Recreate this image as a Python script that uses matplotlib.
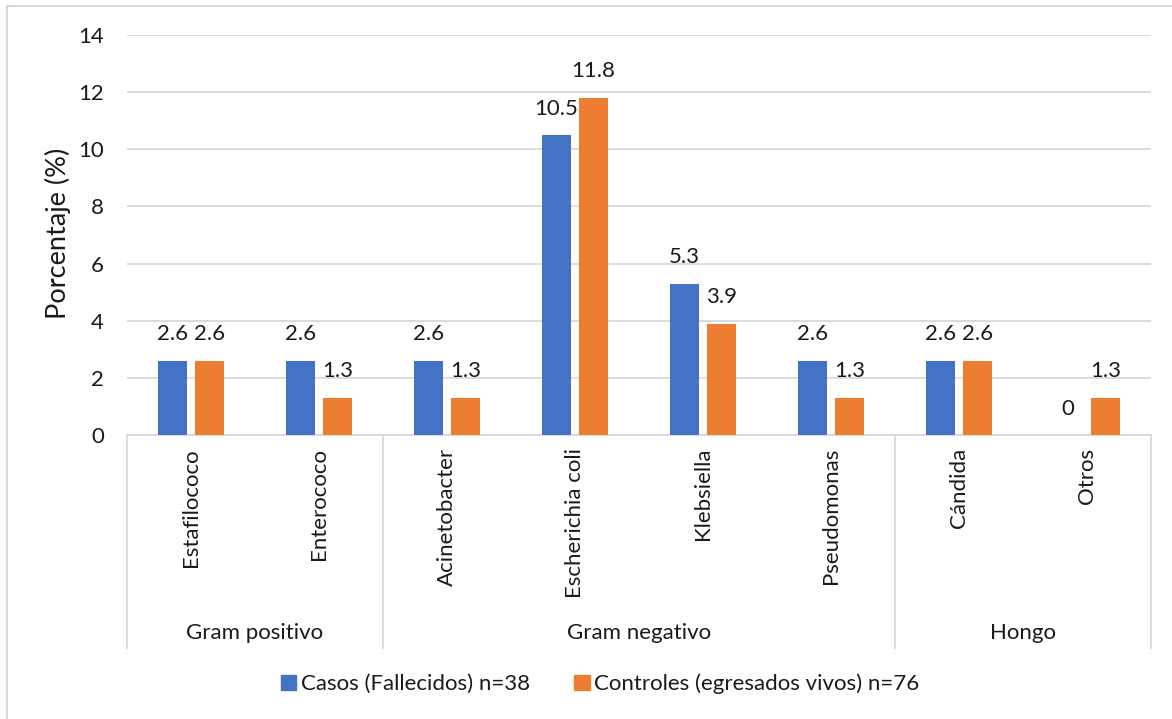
import matplotlib
matplotlib.use("Agg")
import matplotlib.pyplot as plt
from matplotlib.lines import Line2D
from matplotlib.patches import Patch
import numpy as np

plt.rcParams['font.family'] = ['Lato', 'DejaVu Sans']

organisms = ["Estafilococo", "Enterococo", "Acinetobacter", "Escherichia coli",
             "Klebsiella", "Pseudomonas", "Cándida", "Otros"]
groups = ["Gram positivo", "Gram negativo", "Hongo"]
group_sizes = [2, 4, 2]
casos = [2.6, 2.6, 2.6, 10.5, 5.3, 2.6, 2.6, 0]
controles = [2.6, 1.3, 1.3, 11.8, 3.9, 1.3, 2.6, 1.3]
casos_label = "Casos (Fallecidos) n=38"
controles_label = "Controles (egresados vivos) n=76"
yticks = [0, 2, 4, 6, 8, 10, 12, 14]

BLUE = "#4472C4"
ORANGE = "#ED7D31"
GRID = "#D9D9D9"
TXT = "#1a1a1a"
FS = 16

W, H = 1172, 719
fig = plt.figure(figsize=(W / 100, H / 100), dpi=100)

# plot area in pixels
x0, x1 = 127, 1151
ytop, ybot = 35, 435
ax = fig.add_axes([x0 / W, 1 - ybot / H, (x1 - x0) / W, (ybot - ytop) / H])

n = len(organisms)
x = np.arange(n)
bw = 0.227
off = 0.146
ax.bar(x - off, casos, bw, color=BLUE, zorder=3)
ax.bar(x + off, controles, bw, color=ORANGE, zorder=3)

for xi, v in zip(x - off, casos):
    ax.annotate(f"{v:g}", (xi, v), xytext=(0, 19), textcoords="offset points",
                ha="center", va="center", fontsize=FS, color=TXT)
for xi, v in zip(x + off, controles):
    ax.annotate(f"{v:g}", (xi, v), xytext=(0, 19), textcoords="offset points",
                ha="center", va="center", fontsize=FS, color=TXT)

ax.set_xlim(-0.5, n - 0.5)
ax.set_ylim(0, 14)
ax.set_yticks(yticks)
ax.set_yticklabels([str(t) for t in yticks], fontsize=FS, color=TXT)
ax.tick_params(axis="y", length=0, pad=16.5)
ax.set_xticks([])
ax.grid(axis="y", color=GRID, linewidth=1.3, zorder=0)
for s in ["top", "right", "left"]:
    ax.spines[s].set_visible(False)
ax.spines["bottom"].set_color(GRID)
ax.spines["bottom"].set_linewidth(1.3)

# category labels (rotated) below the axis
px_per_cat = (x1 - x0) / n
for i, name in enumerate(organisms):
    cx = x0 + (i + 0.5) * px_per_cat
    fig.text(cx / W, 1 - 448 / H, name, rotation=90, ha="center", va="top",
             fontsize=FS, color=TXT)

# group separators and group labels
bounds = np.concatenate([[0], np.cumsum(group_sizes)])
for b in bounds:
    px = x0 + b * px_per_cat
    fig.add_artist(Line2D([px / W, px / W], [1 - ybot / H, 1 - 648 / H],
                          color=GRID, linewidth=1.3))
for g, a, b in zip(groups, bounds[:-1], bounds[1:]):
    cx = x0 + (a + b) / 2 * px_per_cat
    fig.text(cx / W, 1 - 633 / H, g, ha="center", va="center", fontsize=FS, color=TXT)

# y-axis title
fig.text(58 / W, 1 - 233 / H, "Porcentaje (%)", rotation=90, ha="center",
         va="center", fontsize=19.5, color=TXT)

# legend
handles = [Patch(color=BLUE), Patch(color=ORANGE)]
fig.legend(handles, [casos_label, controles_label], loc="center",
           bbox_to_anchor=(600 / W, 1 - 684 / H), ncol=2, frameon=False,
           fontsize=FS, handlelength=0.7, handleheight=0.7, handletextpad=0.2,
           columnspacing=2.0, labelcolor=TXT)

# chart frame (left and top edges)
fig.add_artist(Line2D([6.5 / W, 6.5 / W], [0, 1 - 6 / H], color=GRID, linewidth=1.5))
fig.add_artist(Line2D([6.5 / W, 1], [1 - 6 / H, 1 - 6 / H], color=GRID, linewidth=1.5))

fig.savefig("out.png", dpi=100, facecolor="white")
